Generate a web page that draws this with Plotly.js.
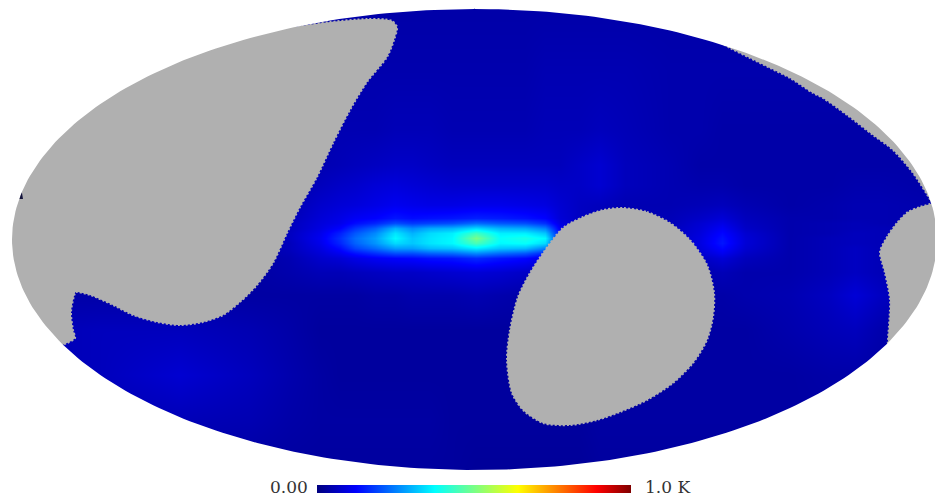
<!DOCTYPE html>
<html>
<head>
<meta charset="utf-8">
<script src="https://cdn.plot.ly/plotly-3.0.1.min.js"></script>
<style>html,body{margin:0;padding:0;background:#fff}#map{width:935px;height:500px}</style>
</head>
<body>
<div id="map"></div>
<script>
// Map plane units (horizontal, vertical), temperature in K.
var gridX = [0,100,180,250,290,320,340,355,375,395,412,430,452,476,500,525,545,560,580,600,625,670,700,722,745,790,830,855,880,935];
var gridY = [0,70,130,165,185,205,218,223,228,233,238,243,248,253,258,272,295,330,375,420,480];
var temperature = [
[.04,.04,.04,.04,.04,.04,.04,.04,.04,.04,.04,.04,.04,.04,.04,.04,.04,.04,.04,.04,.04,.04,.04,.04,.04,.04,.04,.04,.04,.04],
[.045,.045,.045,.045,.045,.045,.045,.045,.045,.045,.045,.045,.045,.045,.045,.045,.05,.05,.05,.05,.05,.045,.045,.045,.045,.045,.045,.045,.045,.045],
[.045,.045,.045,.045,.045,.045,.05,.05,.05,.055,.055,.055,.05,.05,.05,.05,.055,.055,.055,.06,.055,.045,.045,.04,.04,.04,.04,.04,.04,.04],
[.04,.04,.04,.04,.045,.05,.055,.06,.065,.07,.07,.065,.06,.06,.06,.06,.06,.06,.07,.08,.06,.05,.04,.04,.04,.04,.04,.04,.04,.04],
[.04,.04,.04,.04,.045,.06,.07,.075,.085,.09,.085,.08,.075,.075,.075,.075,.075,.07,.07,.08,.06,.05,.045,.045,.04,.04,.04,.045,.045,.04],
[.04,.04,.04,.04,.05,.075,.085,.09,.10,.11,.105,.10,.10,.105,.105,.10,.095,.08,.065,.06,.05,.05,.055,.06,.05,.04,.045,.05,.05,.045],
[.04,.04,.04,.04,.055,.085,.10,.115,.125,.145,.135,.14,.145,.155,.15,.14,.125,.085,.065,.055,.05,.055,.07,.085,.06,.045,.045,.05,.05,.045],
[.04,.04,.04,.04,.06,.09,.105,.135,.16,.20,.18,.19,.20,.23,.21,.20,.17,.095,.07,.055,.05,.055,.08,.10,.065,.045,.05,.055,.05,.045],
[.04,.04,.04,.04,.06,.095,.125,.175,.22,.30,.26,.29,.30,.34,.30,.29,.25,.11,.07,.055,.05,.06,.085,.115,.07,.045,.05,.055,.055,.045],
[.04,.04,.04,.04,.065,.105,.155,.21,.26,.35,.30,.34,.36,.44,.36,.36,.32,.13,.07,.055,.05,.06,.09,.13,.08,.045,.05,.06,.055,.045],
[.04,.04,.04,.04,.065,.11,.17,.23,.28,.37,.32,.35,.37,.50,.38,.40,.37,.14,.07,.055,.05,.06,.095,.14,.085,.045,.055,.06,.055,.045],
[.04,.04,.04,.04,.06,.105,.16,.22,.27,.34,.32,.35,.37,.45,.37,.38,.34,.13,.07,.055,.05,.06,.095,.145,.085,.045,.055,.06,.055,.045],
[.04,.04,.04,.04,.06,.095,.135,.19,.23,.28,.28,.31,.32,.36,.32,.31,.25,.10,.065,.055,.05,.055,.09,.13,.08,.045,.055,.065,.055,.045],
[.04,.04,.04,.04,.055,.085,.11,.14,.17,.20,.20,.22,.23,.26,.23,.21,.16,.085,.06,.05,.05,.05,.08,.11,.07,.045,.055,.065,.055,.045],
[.035,.035,.035,.035,.05,.075,.085,.10,.115,.125,.13,.14,.145,.165,.145,.13,.10,.07,.055,.05,.045,.05,.065,.085,.06,.045,.055,.065,.055,.045],
[.035,.035,.035,.035,.045,.055,.055,.06,.065,.07,.07,.075,.08,.085,.08,.07,.06,.05,.045,.045,.04,.04,.045,.055,.045,.045,.055,.065,.055,.04],
[.04,.04,.04,.035,.035,.035,.035,.035,.04,.04,.045,.045,.045,.05,.045,.04,.04,.04,.04,.04,.04,.04,.04,.04,.045,.05,.065,.085,.065,.04],
[.05,.06,.06,.05,.04,.03,.03,.03,.03,.03,.03,.03,.03,.03,.03,.03,.03,.03,.035,.035,.035,.035,.035,.035,.035,.045,.055,.06,.045,.035],
[.05,.06,.08,.06,.045,.035,.03,.03,.03,.03,.03,.03,.03,.03,.03,.03,.03,.035,.035,.035,.035,.035,.035,.035,.035,.035,.04,.04,.035,.035],
[.04,.05,.055,.05,.04,.035,.035,.035,.035,.035,.035,.035,.03,.03,.03,.03,.03,.03,.03,.035,.035,.035,.035,.035,.035,.035,.035,.035,.035,.035],
[.03,.03,.03,.03,.03,.03,.03,.03,.03,.03,.03,.03,.03,.025,.025,.025,.025,.025,.025,.03,.03,.03,.03,.03,.03,.03,.03,.03,.03,.03]
];
var tempMin = 0, tempMax = 1;

// Masked sky regions, outlines.
var maskLeftX = [250,300,330,367,385,392,397,394,387,367,350,333,317,300,287,273,257,240,223,203,180,157,133,113,90,76,75,71,73,75,67,40,0,0,250];
var maskLeftY = [30,26,22,19,19.5,21,27,40,57,82,110,143,177,207,233,263,285,302,315,322,325,322,315,305,295,292,293,312,330,338,343,350,300,0,0];
var maskMiddleX = [623,647,670,690,707,714,713,707,693,673,647,620,597,570,543,523,512,507,510,518,530,543,563,583,603,623];
var maskMiddleY = [208,212,223,240,265,293,317,340,363,383,400,412,420,425,423,410,393,360,330,297,273,253,228,217,210,208];
var maskRightX = [700,730,750,770,790,813,823,847,873,893,913,931,932,920,908,897,887,880,885,890,888,888,900,960,960,700];
var maskRightY = [30,48,58,68,78,93,98,115,135,150,173,201,203,207,212,223,237,252,273,300,340,343,350,350,0,0];
var specX = [20,22,23,19];
var specY = [191,193,199,199];

var skyColours = [[0,'rgb(0,0,127)'],[.125,'rgb(0,0,255)'],[.375,'rgb(0,255,255)'],[.64,'rgb(255,255,0)'],[.89,'rgb(255,0,0)'],[1,'rgb(127,0,0)']];
var maskGrey = 'rgb(176,176,176)';

// Outer limit of the Mollweide sky: an ellipse, white outside it.
var cx = 474.5, cy = 239.5, ax = 462.5, ay = 230.5, outX = [], outY = [];
[[-20,-20],[960,-20],[960,520],[-20,520],[-20,-20],[cx,-20]].forEach(function(p){outX.push(p[0]);outY.push(p[1]);});
for (var i = 0; i <= 360; i++) {
  var t = -Math.PI/2 - i*Math.PI/180;
  outX.push(cx + ax*Math.cos(t)); outY.push(cy + ay*Math.sin(t));
}
outX.push(cx); outY.push(-20);

// A masked region: curved outline, with a short broken stroke for the pixel-stepped edge.
function maskRegion(x, y) {
  return {type:'scatter', mode:'lines', x:x, y:y, fill:'toself', fillcolor:maskGrey,
          line:{width:2, color:maskGrey, shape:'spline', smoothing:0.8, dash:'2px,2px'}, hoverinfo:'skip', showlegend:false};
}
function solid(x, y, colour) {
  return {type:'scatter', mode:'lines', x:x, y:y, fill:'toself', fillcolor:colour,
          line:{width:0, color:colour}, hoverinfo:'skip', showlegend:false};
}

var data = [
  {type:'heatmap', x:gridX, y:gridY, z:temperature, zmin:tempMin, zmax:tempMax, zsmooth:'best',
   colorscale:skyColours, hoverinfo:'z',
   colorbar:{orientation:'h', lenmode:'pixels', len:314, thicknessmode:'pixels', thickness:8,
             x:474/935, xanchor:'center', y:1-489/500, yanchor:'middle', xpad:0, ypad:0,
             outlinewidth:0, borderwidth:0, ticks:'', showticklabels:false}},
  maskRegion(maskLeftX, maskLeftY),
  maskRegion(maskMiddleX, maskMiddleY),
  maskRegion(maskRightX, maskRightY),
  solid(specX, specY, 'rgb(20,20,60)'),
  solid(outX, outY, '#ffffff')
];

var layout = {
  width:935, height:500, margin:{l:0,r:0,t:0,b:0,autoexpand:false},
  paper_bgcolor:'#fff', plot_bgcolor:'#fff', showlegend:false,
  xaxis:{range:[0,935], visible:false, fixedrange:true},
  yaxis:{range:[500,0], visible:false, fixedrange:true},
  annotations:[
    {xref:'paper',yref:'paper',x:288.5/935,y:1-486.5/500,xanchor:'center',yanchor:'middle',showarrow:false,
     text:'0.00',font:{family:'"DejaVu Serif",serif',size:17,color:'#333'}},
    {xref:'paper',yref:'paper',x:667.5/935,y:1-486.5/500,xanchor:'center',yanchor:'middle',showarrow:false,
     text:'1.0 K',font:{family:'"DejaVu Serif",serif',size:17,color:'#333'}}
  ]
};
Plotly.newPlot('map', data, layout, {displayModeBar:false, staticPlot:true});
</script>
</body>
</html>
